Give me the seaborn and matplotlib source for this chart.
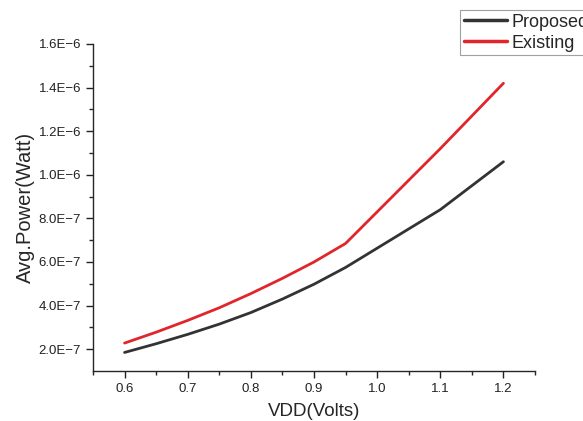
import matplotlib
matplotlib.use("Agg")
import matplotlib.pyplot as plt
import matplotlib.ticker as mticker
import seaborn as sns
import pandas as pd

# Data
vdd = [0.6, 0.65, 0.7, 0.75, 0.8, 0.85, 0.9, 0.95, 1.1, 1.2]
proposed = [1.85e-7, 2.25e-7, 2.68e-7, 3.15e-7, 3.68e-7, 4.30e-7, 4.98e-7, 5.75e-7, 8.40e-7, 1.06e-6]
existing = [2.28e-7, 2.78e-7, 3.32e-7, 3.90e-7, 4.55e-7, 5.25e-7, 6.00e-7, 6.85e-7, 1.12e-6, 1.42e-6]
series_names = ["Proposed", "Existing"]
palette = {"Proposed": "#333333", "Existing": "#e0262b"}

df = pd.DataFrame({"VDD": vdd * 2,
                   "Power": proposed + existing,
                   "Series": ["Proposed"] * len(vdd) + ["Existing"] * len(vdd)})

sns.set_theme(style="ticks")
plt.rcParams["font.family"] = ["Liberation Sans", "DejaVu Sans"]
plt.rcParams["axes.linewidth"] = 1.0

fig = plt.figure(figsize=(5.83, 4.21), dpi=100)
ax = fig.add_axes([0.1595, 0.1188, 0.7582, 0.7767])

sns.lineplot(data=df, x="VDD", y="Power", hue="Series", hue_order=series_names,
             palette=palette, linewidth=2, ax=ax, legend=False)

ax.set_xlim(0.55, 1.25)
ax.set_ylim(1e-7, 1.6e-6)
ax.xaxis.set_major_locator(mticker.MultipleLocator(0.1))
ax.xaxis.set_minor_locator(mticker.MultipleLocator(0.05))
ax.yaxis.set_major_locator(mticker.FixedLocator([2e-7, 4e-7, 6e-7, 8e-7, 1e-6, 1.2e-6, 1.4e-6, 1.6e-6]))
ax.yaxis.set_minor_locator(mticker.FixedLocator([3e-7, 5e-7, 7e-7, 9e-7, 1.1e-6, 1.3e-6, 1.5e-6]))


def sci(v, pos):
    m, e = f"{v:.1E}".split("E")
    return f"{m}E\u2212{abs(int(e))}"


ax.yaxis.set_major_formatter(mticker.FuncFormatter(sci))
ax.xaxis.set_major_formatter(mticker.FormatStrFormatter("%.1f"))
ax.tick_params(which="major", direction="out", length=5, width=1, labelsize=9.5, colors="#222222")
ax.tick_params(which="minor", direction="out", length=3, width=1)

ax.set_xlabel("VDD(Volts)", fontsize=13.5, labelpad=6)
ax.set_ylabel("Avg.Power(Watt)", fontsize=14.5, labelpad=3)
sns.despine(ax=ax)

handles = [plt.Line2D([], [], color=palette[s], linewidth=2.5) for s in series_names]
leg = fig.legend(handles, series_names, loc="upper left", bbox_to_anchor=(0.789, 0.976),
                 frameon=True, fancybox=False, fontsize=13, handlelength=2.4,
                 handletextpad=0.25, borderpad=0.2, labelspacing=0.22, borderaxespad=0)
leg.get_frame().set_edgecolor("#888888")
leg.get_frame().set_linewidth(0.8)

fig.savefig("out.png", dpi=100)
